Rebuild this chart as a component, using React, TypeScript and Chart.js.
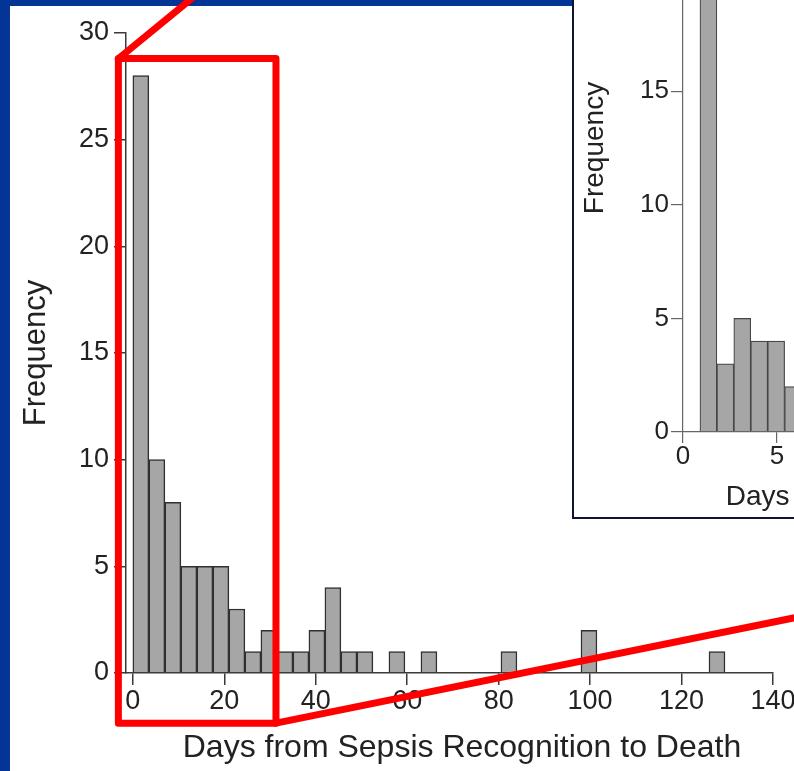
import React, { useEffect, useRef } from "react";
import { Chart, registerables } from "chart.js";

Chart.register(...registerables);

// ---------- data ----------
const BIN_WIDTH = 3.5;
const MAIN_COUNTS = [
  28, 10, 8, 5, 5, 5, 3, 1, 2, 1, 1, 2, 4, 1, 1, 0, 1, 0, 1, 0, 0, 0, 0, 1, 0, 0, 0, 0, 2, 0, 0, 0, 0, 0, 0, 0, 1,
];
const MAIN_X_TICKS = [0, 20, 40, 60, 80, 100, 120, 140];
const MAIN_Y_TICKS = [0, 5, 10, 15, 20, 25, 30];

const INSET_BIN_START = 0.9;
const INSET_BIN_WIDTH = 0.9;
const INSET_COUNTS = [20, 3, 5, 4, 4, 2];
const INSET_X_TICKS = [0, 5, 10, 15, 20, 25, 30];
const INSET_Y_TICKS = [0, 5, 10, 15, 20, 25];

const X_TITLE = "Days from Sepsis Recognition to Death";
const Y_TITLE = "Frequency";

// zoom window (data units of the main chart)
const ZOOM_X = [-3.17, 31.3];
const ZOOM_Y = [-2.35, 28.8];

// ---------- styles ----------
const FONT = '"Liberation Sans", Arial, Helvetica, sans-serif';
const TEXT = "#222222";
const BAR_FILL = "#a6a6a6";
const BAR_EDGE = "#303030";
const AXIS = "#3a3a3a";
const INSET_EDGE = "#474747";
const INSET_AXIS = "#666666";
const RED = "#ff0000";
const BLUE = "#033596";

const INSET_BOX = { left: 572, top: -313, right: 1281, bottom: 519, border: 2 };

export default function App() {
  const mainRef = useRef<HTMLCanvasElement>(null);
  const insetRef = useRef<HTMLCanvasElement>(null);

  useEffect(() => {
    document.body.style.margin = "0";

    const overlay = {
      id: "zoomOverlay",
      afterDraw(chart: any) {
        const { ctx, chartArea: ca } = chart;
        const x = chart.scales.x;
        const y = chart.scales.y;
        // x axis title (drawn manually for exact placement)
        ctx.save();
        ctx.font = `32px ${FONT}`;
        ctx.fillStyle = TEXT;
        ctx.textAlign = "center";
        ctx.textBaseline = "alphabetic";
        ctx.fillText(X_TITLE, (ca.left + ca.right) / 2 + 12.5, ca.bottom + 84);
        ctx.restore();

        const l = x.getPixelForValue(ZOOM_X[0]);
        const r = x.getPixelForValue(ZOOM_X[1]);
        const t = y.getPixelForValue(ZOOM_Y[1]);
        const b = y.getPixelForValue(ZOOM_Y[0]);
        ctx.save();
        ctx.strokeStyle = RED;
        ctx.lineWidth = 7;
        ctx.lineJoin = "round";
        ctx.lineCap = "round";
        ctx.strokeRect(l, t, r - l, b - t);
        ctx.beginPath();
        ctx.moveTo(l, t);
        ctx.lineTo(INSET_BOX.left, INSET_BOX.top);
        ctx.moveTo(r, b);
        ctx.lineTo(INSET_BOX.right, INSET_BOX.bottom);
        ctx.stroke();
        ctx.restore();
      },
    };

    const main = new Chart(mainRef.current!, {
      type: "bar",
      data: {
        datasets: [
          {
            data: MAIN_COUNTS.map((c, i) => ({ x: BIN_WIDTH * (i + 0.5), y: c })),
            backgroundColor: BAR_FILL,
            borderColor: BAR_EDGE,
            borderWidth: 1.5,
            borderSkipped: "start",
            barPercentage: 1,
            categoryPercentage: 1,
          } as any,
        ],
      },
      options: {
        responsive: false,
        animation: false,
        devicePixelRatio: 1,
        layout: { padding: { left: 0, top: 33, right: 21, bottom: 0 } },
        plugins: { legend: { display: false }, tooltip: { enabled: false } },
        scales: {
          x: {
            type: "linear",
            offset: false,
            min: -1.5,
            max: 140,
            afterBuildTicks: (s: any) => {
              s.ticks = MAIN_X_TICKS.map((v) => ({ value: v }));
            },
            afterFit: (s: any) => {
              s.height = 98;
              s.paddingLeft = 0;
              s.paddingRight = 0;
            },
            grid: { display: true, offset: false, drawOnChartArea: false, drawTicks: true, tickLength: 12, color: AXIS, lineWidth: 1.5 },
            border: { display: true, color: AXIS, width: 1.5, z: 1 },
            ticks: { font: { family: FONT, size: 27, lineHeight: 1 }, color: TEXT, padding: 3, maxRotation: 0, autoSkip: false },
          },
          y: {
            type: "linear",
            min: 0,
            max: 30,
            afterBuildTicks: (s: any) => {
              s.ticks = MAIN_Y_TICKS.map((v) => ({ value: v }));
            },
            afterFit: (s: any) => {
              s.width = 126;
              s.paddingTop = 0;
              s.paddingBottom = 0;
            },
            grid: { display: true, drawOnChartArea: false, drawTicks: true, tickLength: 12, color: AXIS, lineWidth: 1.5 },
            border: { display: true, color: AXIS, width: 1.5, z: 1 },
            ticks: { font: { family: FONT, size: 27, lineHeight: 1 }, color: TEXT, padding: 5 },
            title: { display: true, text: Y_TITLE, font: { family: FONT, size: 31 }, color: TEXT, padding: { top: 18, bottom: 0 } },
          },
        },
      } as any,
      plugins: [overlay],
    });

    const inset = new Chart(insetRef.current!, {
      type: "bar",
      data: {
        datasets: [
          {
            data: INSET_COUNTS.map((c, i) => ({ x: INSET_BIN_START + INSET_BIN_WIDTH * (i + 0.5), y: c })),
            backgroundColor: BAR_FILL,
            borderColor: INSET_EDGE,
            borderWidth: 1.2,
            borderSkipped: "start",
            barPercentage: 1,
            categoryPercentage: 1,
          } as any,
        ],
      },
      options: {
        responsive: false,
        animation: false,
        devicePixelRatio: 1,
        layout: { padding: { left: 0, top: 175, right: 22, bottom: 0 } },
        plugins: { legend: { display: false }, tooltip: { enabled: false } },
        scales: {
          x: {
            type: "linear",
            offset: false,
            min: 0,
            max: 30.5,
            afterBuildTicks: (s: any) => {
              s.ticks = INSET_X_TICKS.map((v) => ({ value: v }));
            },
            afterFit: (s: any) => {
              s.height = 85;
              s.paddingLeft = 0;
              s.paddingRight = 0;
            },
            grid: { display: true, offset: false, drawOnChartArea: false, drawTicks: true, tickLength: 11, color: INSET_AXIS, lineWidth: 1.2 },
            border: { display: true, color: INSET_AXIS, width: 1.2, z: 1 },
            ticks: { font: { family: FONT, size: 26, lineHeight: 1 }, color: TEXT, padding: 1, maxRotation: 0, autoSkip: false },
            title: { display: true, text: X_TITLE, font: { family: FONT, size: 28 }, color: TEXT, padding: { top: 0, bottom: 3 } },
          },
          y: {
            type: "linear",
            min: 0,
            max: 25,
            afterBuildTicks: (s: any) => {
              s.ticks = INSET_Y_TICKS.map((v) => ({ value: v }));
            },
            afterFit: (s: any) => {
              s.width = 109;
              s.paddingTop = 0;
              s.paddingBottom = 0;
            },
            grid: { display: true, drawOnChartArea: false, drawTicks: true, tickLength: 12, color: INSET_AXIS, lineWidth: 1.2 },
            border: { display: true, color: INSET_AXIS, width: 1.2, z: 1 },
            ticks: { font: { family: FONT, size: 26, lineHeight: 1 }, color: TEXT, padding: 2 },
            title: { display: true, text: Y_TITLE, font: { family: FONT, size: 28 }, color: TEXT, padding: { top: 4.5, bottom: 0 } },
          },
        },
      } as any,
    });

    return () => {
      main.destroy();
      inset.destroy();
    };
  }, []);

  const boxW = INSET_BOX.right - INSET_BOX.left;
  const boxH = INSET_BOX.bottom - INSET_BOX.top;

  return (
    <div style={{ position: "relative", width: 794, height: 771, overflow: "hidden", background: BLUE }}>
      <div style={{ position: "absolute", left: 10, top: 6, width: 784, height: 765, background: "#ffffff" }} />
      <canvas ref={mainRef} width={794} height={771} style={{ position: "absolute", left: 0, top: 0, display: "block" }} />
      <div
        style={{
          position: "absolute",
          left: INSET_BOX.left,
          top: INSET_BOX.top,
          width: boxW,
          height: boxH,
          border: `${INSET_BOX.border}px solid #0f1433`,
          boxSizing: "border-box",
          background: "#ffffff",
        }}
      >
        <canvas
          ref={insetRef}
          width={boxW - 2 * INSET_BOX.border}
          height={boxH - 2 * INSET_BOX.border}
          style={{ display: "block" }}
        />
      </div>
    </div>
  );
}
